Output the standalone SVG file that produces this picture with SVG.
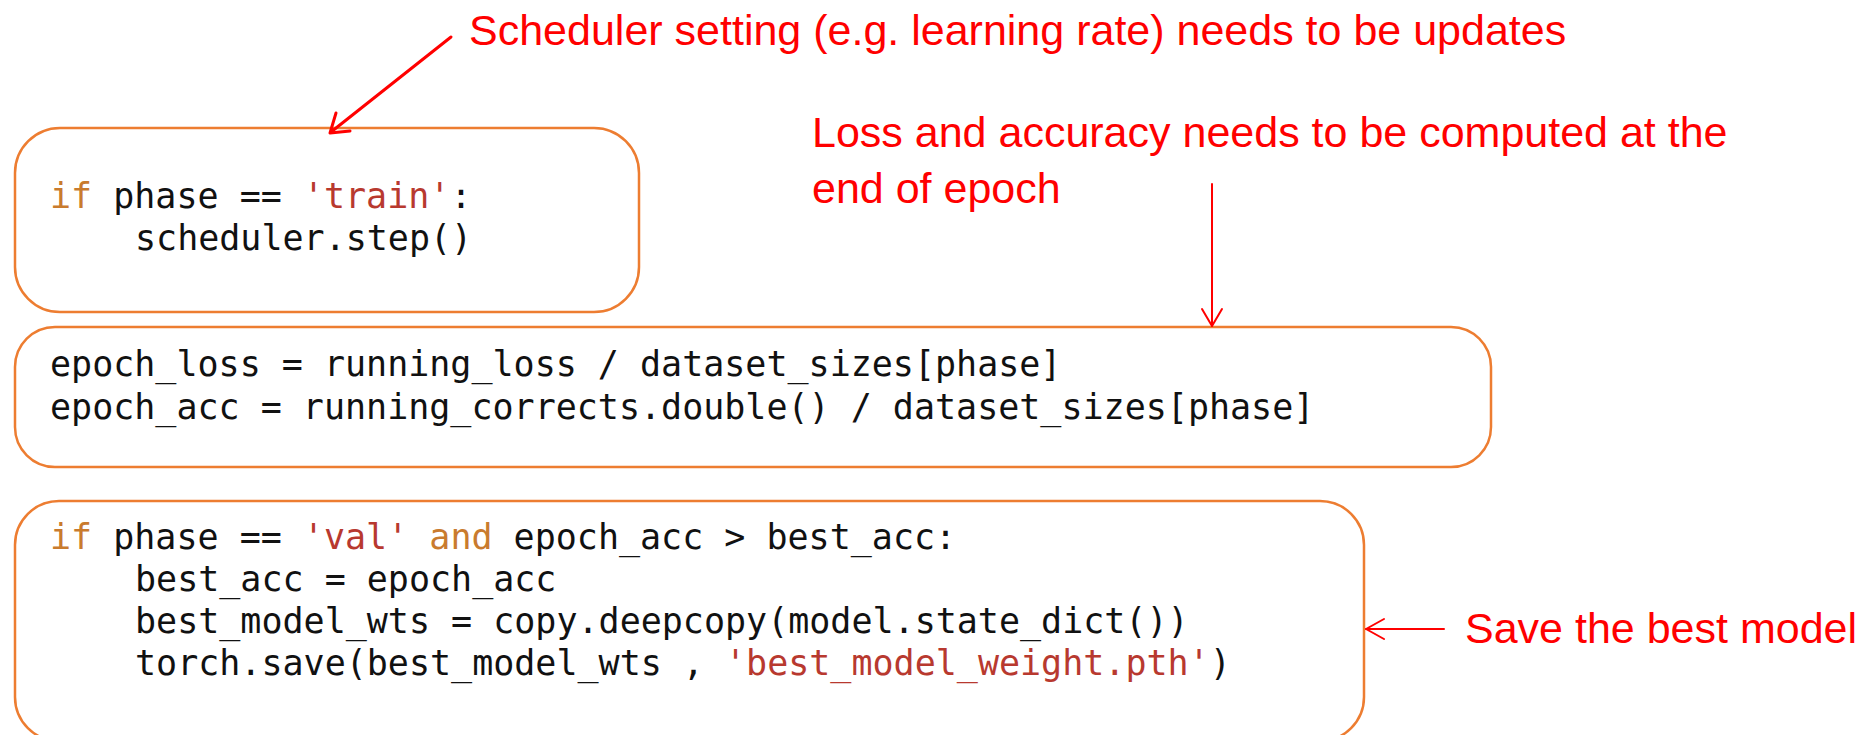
<svg xmlns="http://www.w3.org/2000/svg" width="1873" height="735" viewBox="0 0 1873 735">
  <defs>
    <style>
      .box { fill: #ffffff; stroke: #ed7d31; stroke-width: 2.5; }
      .code { font-family: "DejaVu Sans Mono", "Liberation Mono", monospace; font-size: 35px; fill: #111111; }
      .kw { fill: #c97b2e; }
      .str { fill: #b8392f; }
      .note { font-family: "Liberation Sans", Arial, sans-serif; font-size: 43px; fill: #ff0000; }
      .conn { stroke: #ff0000; fill: none; stroke-linecap: round; stroke-linejoin: round; }
    </style>
  </defs>
  <rect width="1873" height="735" fill="#ffffff"/>

  <!-- scheduler step block -->
  <g id="scheduler-block">
    <rect class="box" x="15" y="128" width="624" height="184" rx="45" ry="45"/>
    <text class="code" x="50" y="208" xml:space="preserve"><tspan class="kw">if</tspan> phase == <tspan class="str">'train'</tspan>:</text>
    <text class="code" x="135" y="250">scheduler.step()</text>
  </g>

  <!-- epoch statistics block -->
  <g id="epoch-stats-block">
    <rect class="box" x="15" y="327" width="1476" height="140" rx="40" ry="40"/>
    <text class="code" x="50" y="376" xml:space="preserve">epoch_loss = running_loss / dataset_sizes[phase]</text>
    <text class="code" x="50" y="419" xml:space="preserve">epoch_acc = running_corrects.double() / dataset_sizes[phase]</text>
  </g>

  <!-- best model checkpoint block -->
  <g id="best-model-block">
    <rect class="box" x="15" y="501" width="1349" height="240" rx="44" ry="44"/>
    <text class="code" x="50" y="549" xml:space="preserve"><tspan class="kw">if</tspan> phase == <tspan class="str">'val'</tspan> <tspan class="kw">and</tspan> epoch_acc &gt; best_acc:</text>
    <text class="code" x="135" y="591" xml:space="preserve">best_acc = epoch_acc</text>
    <text class="code" x="135" y="633" xml:space="preserve">best_model_wts = copy.deepcopy(model.state_dict())</text>
    <text class="code" x="135" y="675" xml:space="preserve">torch.save(best_model_wts , <tspan class="str">'best_model_weight.pth'</tspan>)</text>
  </g>

  <!-- annotations -->
  <g id="note-scheduler">
    <text class="note" x="469" y="45">Scheduler setting (e.g. learning rate) needs to be updates</text>
  </g>
  <g id="note-loss">
    <text class="note" x="812" y="147">Loss and accuracy needs to be computed at the</text>
    <text class="note" x="812" y="203">end of epoch</text>
  </g>
  <g id="note-save">
    <text class="note" x="1465" y="643">Save the best model</text>
  </g>

  <!-- connectors -->
  <g id="connectors">
    <g id="arrow-scheduler">
      <line class="conn" stroke-width="3" x1="451" y1="37" x2="331" y2="132"/>
      <polyline class="conn" stroke-width="3" points="336,113 330,133 350,131"/>
    </g>
    <g id="arrow-loss">
      <line class="conn" stroke-width="2" x1="1212" y1="184" x2="1212" y2="326"/>
      <polyline class="conn" stroke-width="2" points="1202,309 1212,326 1222,309"/>
    </g>
    <g id="arrow-save">
      <line class="conn" stroke-width="2" x1="1444" y1="629" x2="1366" y2="629"/>
      <polyline class="conn" stroke-width="2" points="1384,619 1366,629 1384,639"/>
    </g>
  </g>
</svg>
